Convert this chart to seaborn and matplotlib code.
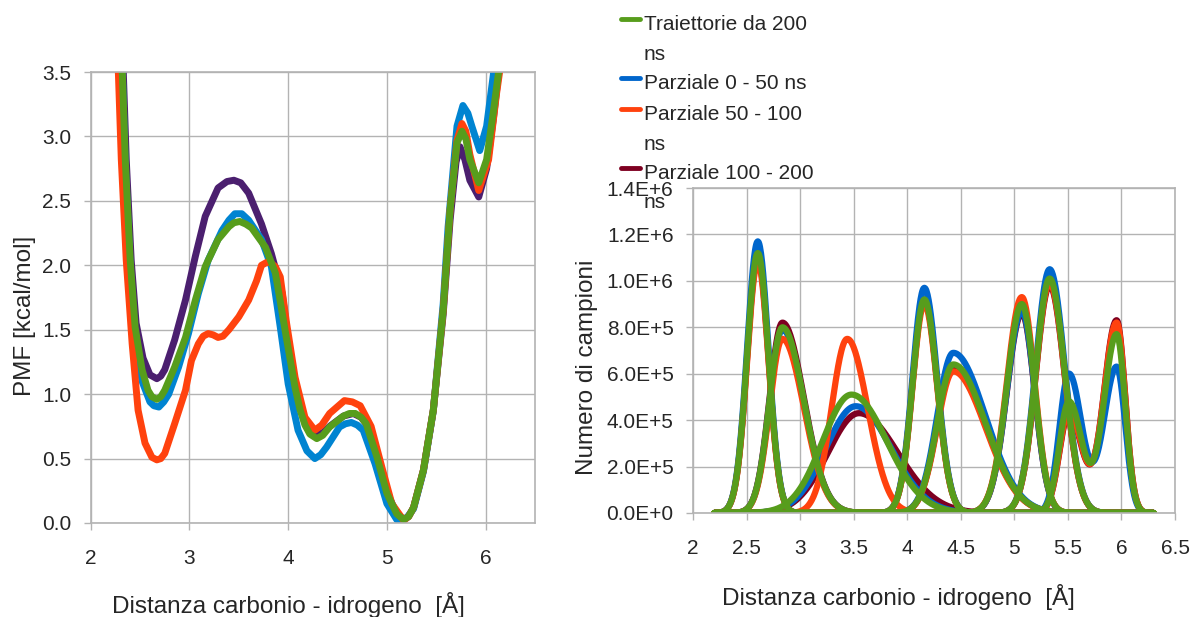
import numpy as np
import pandas as pd
import seaborn as sns
import matplotlib.pyplot as plt
from matplotlib.lines import Line2D
from matplotlib.ticker import FuncFormatter

sns.set_style("whitegrid")
plt.rcParams['font.family'] = ['Liberation Sans', 'DejaVu Sans']

# legend labels (in legend order)
labels = ["Traiettorie da 200\nns", "Parziale 0 - 50 ns", "Parziale 50 - 100\nns", "Parziale 100 - 200\nns"]

# --- PMF (left panel) ---
pmf_x_tot = [2.30, 2.32, 2.35, 2.40, 2.45, 2.52, 2.58, 2.62, 2.67, 2.71, 2.75, 2.85, 2.96, 3.06, 3.16, 3.29,
             3.40, 3.45, 3.51, 3.57, 3.63, 3.77, 3.87, 3.92, 3.97, 4.02, 4.07, 4.12, 4.17, 4.22, 4.29, 4.35,
             4.42, 4.56, 4.62, 4.68, 4.74, 4.79, 4.90, 5.00, 5.10, 5.17, 5.22, 5.27, 5.37, 5.47, 5.57, 5.64,
             5.71, 5.76, 5.80, 5.84, 5.93, 6.01, 6.08, 6.14]
pmf_y_tot = [3.75, 3.50, 2.82, 2.04, 1.52, 1.19, 1.03, 0.98, 0.96, 0.98, 1.03, 1.21, 1.44, 1.73, 1.99, 2.20,
             2.30, 2.33, 2.34, 2.32, 2.29, 2.14, 1.94, 1.72, 1.49, 1.27, 1.05, 0.88, 0.76, 0.69, 0.655, 0.68,
             0.745, 0.83, 0.85, 0.85, 0.82, 0.77, 0.51, 0.23, 0.07, 0.026, 0.05, 0.12, 0.41, 0.875, 1.65, 2.43,
             2.95, 3.04, 2.98, 2.82, 2.64, 2.82, 3.20, 3.55]

pmf_x_0_50 = [2.30, 2.32, 2.35, 2.40, 2.45, 2.52, 2.60, 2.64, 2.69, 2.74, 2.79, 2.89, 2.99, 3.09, 3.19, 3.33,
              3.40, 3.46, 3.53, 3.60, 3.73, 3.83, 3.92, 4.00, 4.10, 4.19, 4.27, 4.33, 4.39, 4.52, 4.58, 4.64,
              4.70, 4.76, 4.88, 5.00, 5.10, 5.15, 5.20, 5.27, 5.37, 5.47, 5.57, 5.62, 5.71, 5.77, 5.82, 5.86,
              5.94, 6.01, 6.08, 6.12]
pmf_y_0_50 = [3.75, 3.50, 2.78, 1.98, 1.45, 1.10, 0.94, 0.91, 0.90, 0.94, 1.00, 1.21, 1.47, 1.78, 2.04, 2.27,
              2.35, 2.40, 2.40, 2.35, 2.20, 1.99, 1.52, 1.08, 0.72, 0.56, 0.50, 0.53, 0.59, 0.745, 0.77, 0.78,
              0.76, 0.72, 0.46, 0.15, 0.026, 0.01, 0.04, 0.11, 0.40, 0.87, 1.70, 2.30, 3.08, 3.24, 3.18, 3.08,
              2.89, 3.08, 3.49, 3.70]

pmf_x_50_100 = [2.27, 2.28, 2.31, 2.36, 2.42, 2.48, 2.55, 2.62, 2.67, 2.71, 2.75, 2.85, 2.96, 3.02, 3.09, 3.14,
                3.19, 3.24, 3.29, 3.34, 3.40, 3.50, 3.60, 3.68, 3.73, 3.80, 3.87, 3.92, 3.98, 4.07, 4.17, 4.27,
                4.34, 4.42, 4.57, 4.65, 4.73, 4.84, 4.95, 5.05, 5.17, 5.22, 5.27, 5.37, 5.47, 5.57, 5.64, 5.71,
                5.76, 5.80, 5.84, 5.93, 6.03, 6.11, 6.16]
pmf_y_50_100 = [3.75, 3.50, 2.82, 2.04, 1.39, 0.875, 0.62, 0.51, 0.49, 0.50, 0.54, 0.77, 1.03, 1.26, 1.39, 1.45,
                1.47, 1.46, 1.44, 1.45, 1.50, 1.60, 1.73, 1.88, 2.00, 2.03, 1.99, 1.91, 1.57, 1.13, 0.82, 0.72,
                0.76, 0.85, 0.95, 0.94, 0.91, 0.75, 0.43, 0.15, 0.02, 0.05, 0.12, 0.41, 0.875, 1.65, 2.43, 2.97,
                3.10, 3.04, 2.86, 2.58, 2.82, 3.33, 3.60]

pmf_x_100_200 = [2.31, 2.33, 2.36, 2.41, 2.46, 2.53, 2.60, 2.67, 2.71, 2.75, 2.85, 2.96, 3.06, 3.16, 3.29, 3.38,
                 3.45, 3.52, 3.60, 3.73, 3.83, 3.94, 4.02, 4.12, 4.20, 4.28, 4.35, 4.42, 4.56, 4.66, 4.74, 4.79,
                 4.90, 5.00, 5.10, 5.17, 5.22, 5.27, 5.37, 5.47, 5.57, 5.64, 5.70, 5.74, 5.79, 5.84, 5.93, 6.01,
                 6.08, 6.14]
pmf_y_100_200 = [3.75, 3.50, 2.82, 2.04, 1.55, 1.28, 1.15, 1.12, 1.14, 1.19, 1.42, 1.73, 2.07, 2.38, 2.60, 2.65,
                 2.66, 2.64, 2.56, 2.32, 2.09, 1.78, 1.28, 0.90, 0.73, 0.68, 0.70, 0.75, 0.83, 0.85, 0.82, 0.77,
                 0.52, 0.24, 0.07, 0.03, 0.05, 0.12, 0.41, 0.875, 1.62, 2.35, 2.80, 2.92, 2.82, 2.66, 2.53, 2.75,
                 3.15, 3.55]

# --- histogram windows (right panel) ---
win_center = [2.605, 2.835, None, 4.16, 4.43, 5.07, 5.33, 5.51, 5.955]
win_sig_l = [0.10, 0.12, None, 0.11, 0.15, 0.14, 0.13, 0.09, 0.12]
win_sig_r = [0.10, 0.20, None, 0.12, 0.30, 0.12, 0.14, 0.12, 0.08]
win_group = [0, 1, 2, 3, 4, 5, 6, 7, 7]
# third window differs between series (total, 0-50, 50-100, 100-200)
mid_center = [3.48, 3.52, 3.44, 3.55]
mid_sig_l = [0.27, 0.28, 0.145, 0.29]
mid_sig_r = [0.33, 0.33, 0.19, 0.36]
# peak heights (counts)
h_tot = [1.12e6, 0.80e6, 0.51e6, 0.92e6, 0.64e6, 0.90e6, 1.01e6, 0.48e6, 0.77e6]
h_0_50 = [1.17e6, 0.79e6, 0.46e6, 0.97e6, 0.69e6, 0.87e6, 1.05e6, 0.60e6, 0.63e6]
h_50_100 = [1.08e6, 0.75e6, 0.75e6, 0.90e6, 0.61e6, 0.93e6, 0.99e6, 0.44e6, 0.82e6]
h_100_200 = [1.10e6, 0.82e6, 0.43e6, 0.92e6, 0.63e6, 0.86e6, 0.98e6, 0.43e6, 0.83e6]

col_left = {labels[0]: "#579d1c", labels[1]: "#0084d1", labels[2]: "#ff420e", labels[3]: "#4b1f6f"}
col_right = {labels[0]: "#579d1c", labels[1]: "#0066cc", labels[2]: "#ff420e", labels[3]: "#7e0021"}
draw_order = [labels[3], labels[1], labels[2], labels[0]]

pmf_df = pd.concat([
    pd.DataFrame({'x': pmf_x_tot, 'y': pmf_y_tot, 'serie': labels[0]}),
    pd.DataFrame({'x': pmf_x_0_50, 'y': pmf_y_0_50, 'serie': labels[1]}),
    pd.DataFrame({'x': pmf_x_50_100, 'y': pmf_y_50_100, 'serie': labels[2]}),
    pd.DataFrame({'x': pmf_x_100_200, 'y': pmf_y_100_200, 'serie': labels[3]}),
])

xg = np.linspace(2.2, 6.3, 821)
rows = []
for k, (lab, hh) in enumerate(zip(labels, [h_tot, h_0_50, h_50_100, h_100_200])):
    curves = {}
    for i in range(len(hh)):
        c = mid_center[k] if i == 2 else win_center[i]
        sl = mid_sig_l[k] if i == 2 else win_sig_l[i]
        sr = mid_sig_r[k] if i == 2 else win_sig_r[i]
        s = np.where(xg < c, sl, sr)
        curves[win_group[i]] = curves.get(win_group[i], 0) + hh[i] * np.exp(-(xg - c) ** 2 / (2 * s ** 2))
    for g, yv in curves.items():
        rows.append(pd.DataFrame({'x': xg, 'n': yv, 'serie': lab, 'win': g}))
hist_df = pd.concat(rows, ignore_index=True)

fig = plt.figure(figsize=(11.92, 6.17), dpi=100)
W, H = 1192, 617
ax1 = fig.add_axes([90.7 / W, 1 - 523 / H, 444.3 / W, 451 / H])
ax2 = fig.add_axes([693 / W, 1 - 513 / H, 482 / W, 325 / H])

sns.lineplot(data=pmf_df, x='x', y='y', hue='serie', hue_order=draw_order, palette=col_left,
             sort=False, lw=5, solid_capstyle='round', solid_joinstyle='round', legend=False, ax=ax1)
sns.lineplot(data=hist_df, x='x', y='n', hue='serie', hue_order=draw_order, palette=col_right,
             units='win', estimator=None, sort=False, lw=4.5, solid_capstyle='round', legend=False, ax=ax2)

grid_c = '#b3b3b3'
for ax in (ax1, ax2):
    ax.grid(True, color=grid_c, lw=1)
    for sp in ax.spines.values():
        sp.set_color(grid_c)
        sp.set_linewidth(1.2)
    ax.tick_params(axis='both', which='both', direction='out', length=5, width=1, color=grid_c,
                   labelsize=15, pad=9, left=True, bottom=True)
    ax.tick_params(axis='x', pad=14)
    ax.set_xlabel('Distanza carbonio - idrogeno  [Å]', fontsize=17.5)

ax1.set_xlim(2, 6.5)
ax1.set_ylim(0, 3.5)
ax1.set_xticks([2, 3, 4, 5, 6])
ax1.set_yticks(np.arange(0, 3.51, 0.5))
ax1.yaxis.set_major_formatter(FuncFormatter(lambda v, p: f"{v:.1f}"))
ax1.set_ylabel('PMF [kcal/mol]', fontsize=17.5)
ax1.xaxis.set_label_coords(0.445, -69 / 451)
ax1.yaxis.set_label_coords(-55 / 444.3, 0.459)

ax2.set_xlim(2, 6.5)
ax2.set_ylim(0, 1.4e6)
ax2.set_xticks(np.arange(2, 6.51, 0.5))
ax2.xaxis.set_major_formatter(FuncFormatter(lambda v, p: f"{v:g}"))
ax2.set_yticks(np.arange(0, 1.41e6, 2e5))


def sci(v, p):
    if v == 0:
        return "0.0E+0"
    e = int(np.floor(np.log10(abs(v))))
    return f"{v / 10 ** e:.1f}E+{e}"


ax2.yaxis.set_major_formatter(FuncFormatter(sci))
ax2.set_ylabel('Numero di campioni', fontsize=17.5)
ax2.xaxis.set_label_coords(0.426, -71 / 325)
ax2.yaxis.set_label_coords(-95 / 482, 0.449)

# legend drawn by hand, handle next to the first line of each entry
leg_y = [23, 82, 113, 172]
leg_cols = [col_right[l] for l in labels]
for lab, yy, cc in zip(labels, leg_y, leg_cols):
    fig.add_artist(Line2D([621 / W, 640 / W], [1 - (yy - 4) / H] * 2, color=cc, lw=3.5,
                          transform=fig.transFigure))
    fig.text(644 / W, 1 - (yy - 8) / H, lab, fontsize=15, va='top', ha='left', linespacing=1.7)

fig.savefig('out.png', dpi=100)
